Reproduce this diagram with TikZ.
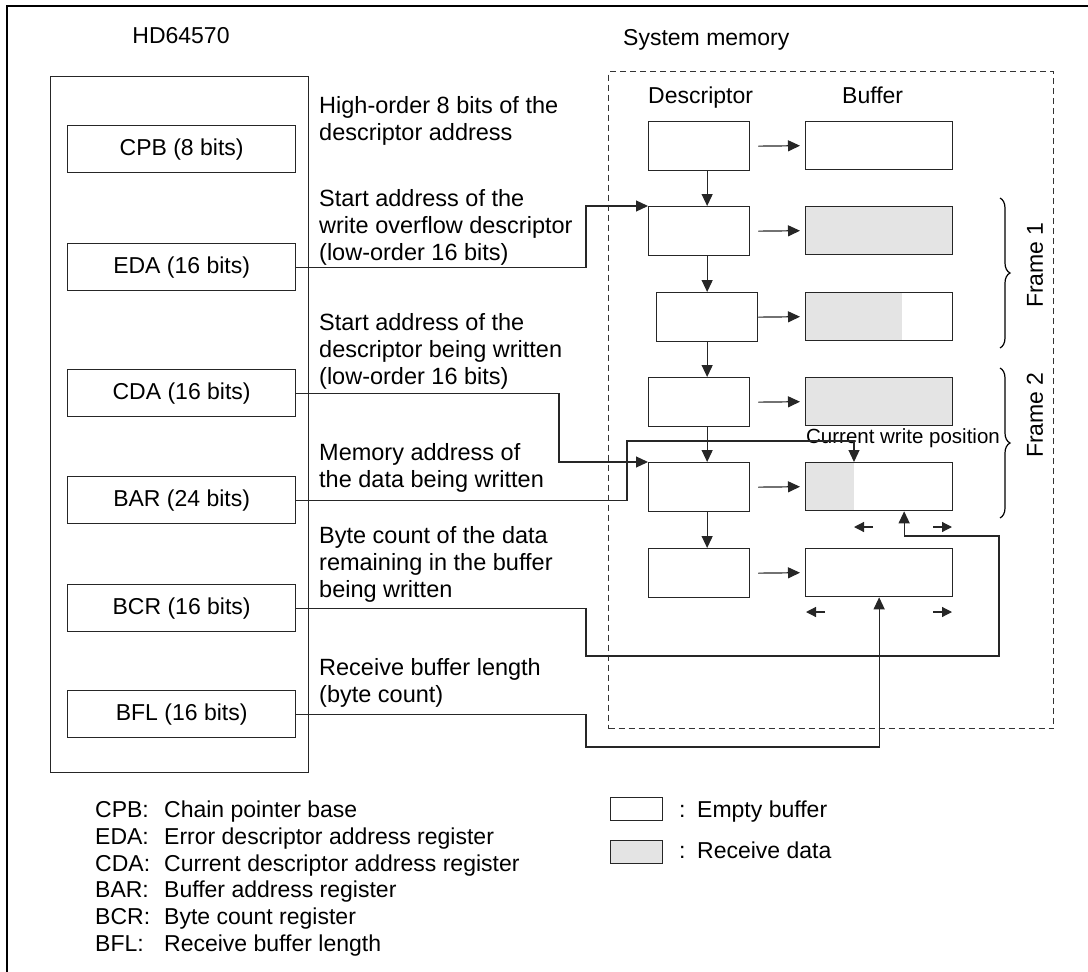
\documentclass[tikz,border=0pt]{standalone}
\usepackage{fontspec}
\setmainfont{Liberation Sans}
\usetikzlibrary{arrows.meta,decorations.pathreplacing}
\definecolor{datagray}{HTML}{E4E4E4}
\begin{document}
\begin{tikzpicture}[x=1pt,y=-1pt,
  box/.style={draw=black!85, line width=1.3pt, inner sep=0pt, anchor=north west, font=\fontsize{23}{27}\selectfont},
  conn/.style={draw=black!85, line width=1.2pt},
  arr/.style={-{Triangle[length=12pt,width=11pt]}},
  sarr/.style={-{Triangle[length=10pt,width=10pt]}},
  txt/.style={anchor=base west, inner sep=0pt, font=\fontsize{23}{27}\selectfont},
  dtxt/.style={txt, font=\fontsize{23.5}{27}\selectfont},
  desc/.style={box, minimum width=101pt, minimum height=49pt},
  buf/.style={box, minimum width=147pt, minimum height=48pt},
  reg/.style={box, minimum width=228pt, minimum height=47pt}]
\useasboundingbox (0,0) rectangle (1088,972);
% outer frame
\draw[line width=2.8pt] (7,972) -- (7,6) -- (1088,6);

% titles
\node[txt, anchor=base] (t1) at (181,43) {HD64570};
\node[txt] (t2) at (623,45) {System memory};

% HD64570 box
\node[box, minimum width=258pt, minimum height=696pt] (hd) at (50,76) {};
\node[reg] (cpb) at (67,125) {CPB (8 bits)};
\node[reg] (eda) at (67,243) {EDA (16 bits)};
\node[reg] (cda) at (67,369) {CDA (16 bits)};
\node[reg] (bar) at (67,476) {BAR (24 bits)};
\node[reg] (bcr) at (67,584) {BCR (16 bits)};
\node[reg] (bfl) at (67,690) {BFL (16 bits)};

% descriptions
\node[dtxt] (a1) at (319,113) {High-order 8 bits of the};
\node[dtxt] (a2) at (319,140) {descriptor address};
\node[dtxt] (b1t) at (319,206) {Start address of the};
\node[dtxt] (b2t) at (319,233) {write overflow descriptor};
\node[dtxt] (b3t) at (319,260) {(low-order 16 bits)};
\node[dtxt] (c1t) at (319,330) {Start address of the};
\node[dtxt] (c2t) at (319,357) {descriptor being written};
\node[dtxt] (c3t) at (319,384) {(low-order 16 bits)};
\node[dtxt] (m1t) at (319,460) {Memory address of};
\node[dtxt] (m2t) at (319,487) {the data being written};
\node[dtxt] (n1t) at (319,543) {Byte count of the data};
\node[dtxt] (n2t) at (319,570) {remaining in the buffer};
\node[dtxt] (n3t) at (319,597) {being written};
\node[dtxt] (r1t) at (319,675) {Receive buffer length};
\node[dtxt] (r2t) at (319,702) {(byte count)};

% system memory dashed box
\node[draw=black!80, line width=1.2pt, dash pattern=on 6pt off 4pt, anchor=north west, inner sep=0pt,
      minimum width=445pt, minimum height=657pt] (mem) at (608,71) {};
\node[txt] (hdesc) at (648,103) {Descriptor};
\node[txt] (hbuf) at (842,103) {Buffer};

% descriptors
\node[desc] (d1) at (648,121) {};
\node[desc] (d2) at (648,206) {};
\node[desc] (d3) at (656,292) {};
\node[desc] (d4) at (648,377) {};
\node[desc] (d5) at (648,462) {};
\node[desc] (d6) at (648,548) {};

% buffers (fills first)
\fill[datagray] (805,206) rectangle (952,254);
\fill[datagray] (805,292) rectangle (902,340);
\fill[datagray] (805,377) rectangle (952,425);
\fill[datagray] (805,462) rectangle (854,510);
\node[buf] (b1) at (805,121) {};
\node[buf] (b2) at (805,206) {};
\node[buf] (b3) at (805,292) {};
\node[buf] (b4) at (805,377) {};
\node[buf] (b5) at (805,462) {};
\node[buf] (b6) at (805,548) {};

% descriptor chain
\foreach \i/\j in {d1/d2,d2/d3,d3/d4,d4/d5,d5/d6}
  \draw[conn,arr] (\i.south -| d3.center) -- (\j.north -| d3.center);
% descriptor -> buffer
\foreach \i/\j in {d1/b1,d2/b2,d4/b4,d5/b5,d6/b6}
  \draw[conn,arr,shorten >=5pt] ([xshift=8pt]\i.east) -- (\j.west);
\draw[conn,arr,shorten >=5pt] (d3.east) -- (b3.west);

% current write position
\node[inner sep=0pt, font=\fontsize{20.5}{24}\selectfont, anchor=base] (cwp) at (903,443) {Current write position};
\coordinate (cw) at (854,462);

% register connectors
\draw[conn,arr] (eda.east) -| (586,206) -- (d2.north west);
\draw[conn,arr] (cda.east) -| (559,462) -- (d5.north west);
\draw[conn,arr] (bar.east) -| (627,441) -| (cw);
\draw[conn,arr] (bcr.east) -| (586,656) -| (999,536) -| ([xshift=25pt]b5.south);
\draw[conn,arr] (bfl.east) -| (586,747) -| (b6.south);

% small arrows under buffers
\coordinate (l5a) at (873,527); \coordinate (l5b) at (854,527);
\coordinate (r5a) at (933,527); \coordinate (r5b) at (952,527);
\coordinate (l6a) at (825,612); \coordinate (l6b) at (806,612);
\coordinate (r6a) at (933,612); \coordinate (r6b) at (952,612);
\draw[conn,sarr] (l5a) -- (l5b);
\draw[conn,sarr] (r5a) -- (r5b);
\draw[conn,sarr] (l6a) -- (l6b);
\draw[conn,sarr] (r6a) -- (r6b);

% braces
\draw[line width=1.2pt, decorate, decoration={brace, amplitude=10pt}] (1000,198) -- (1000,348);
\draw[line width=1.2pt, decorate, decoration={brace, amplitude=10pt}] (1000,368) -- (1000,518);
\node[inner sep=0pt, font=\fontsize{23}{27}\selectfont, rotate=90] (f1) at (1035,265) {Frame 1};
\node[inner sep=0pt, font=\fontsize{23}{27}\selectfont, rotate=90] (f2) at (1035,415) {Frame 2};

% legend left
\node[txt] (k1) at (95,817) {CPB:};  \node[txt] (v1) at (164,817) {Chain pointer base};
\node[txt] (k2) at (95,844) {EDA:};  \node[txt] (v2) at (164,844) {Error descriptor address register};
\node[txt] (k3) at (95,871) {CDA:};  \node[txt] (v3) at (164,871) {Current descriptor address register};
\node[txt] (k4) at (95,897) {BAR:};  \node[txt] (v4) at (164,897) {Buffer address register};
\node[txt] (k5) at (95,924) {BCR:};  \node[txt] (v5) at (164,924) {Byte count register};
\node[txt] (k6) at (95,951) {BFL:};  \node[txt] (v6) at (164,951) {Receive buffer length};

% legend right
\node[box, minimum width=52pt, minimum height=23pt] (le) at (610,797) {};
\node[box, fill=datagray, minimum width=52pt, minimum height=23pt] (lr) at (610,840) {};
\node[txt] (lc1) at (679,817) {:}; \node[txt] (lt1) at (697,817) {Empty buffer};
\node[txt] (lc2) at (679,858) {:}; \node[txt] (lt2) at (697,858) {Receive data};
\end{tikzpicture}
\end{document}
